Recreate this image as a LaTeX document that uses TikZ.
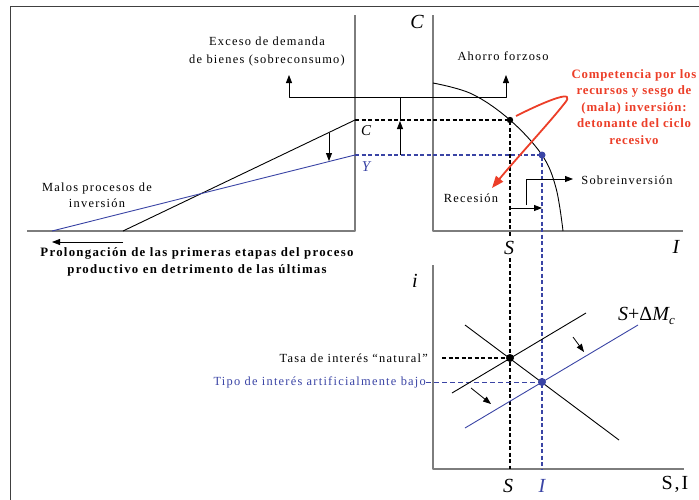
\documentclass[tikz,border=0pt]{standalone}
\usepackage{fontspec}
\setmainfont{Liberation Serif}[LetterSpace=10]
\usetikzlibrary{arrows.meta}
\definecolor{azul}{RGB}{58,68,165}
\definecolor{rojo}{RGB}{236,62,40}
\definecolor{ejes}{RGB}{125,125,125}

\begin{document}
\begin{tikzpicture}[x=1pt, y=-1pt, line join=round,
    eje/.style={ejes, line width=1.6pt},
    linea/.style={black, line width=0.9pt},
    lineaazul/.style={azul, line width=0.9pt},
    guia/.style={black, line width=1.4pt, dash pattern=on 4pt off 2.5pt},
    guiaazul/.style={azul, line width=1.4pt, dash pattern=on 4pt off 2.5pt},
    flecha/.style={black, line width=0.8pt, -{Triangle[length=8pt, width=6pt]}},
    texto/.style={font=\fontsize{12.4}{16}\selectfont, align=center, inner sep=0pt},
    negrita/.style={font=\fontsize{12.8}{16.5}\selectfont\bfseries},
    etiq/.style={font=\fontsize{20}{20}\selectfont\itshape, inner sep=0pt},
]
\useasboundingbox (0,0) rectangle (699,499);
\clip (0,0) rectangle (699,499);

    % Frame
    \draw[black!75, line width=1pt] (10,505) -- (10,6) -- (705,6);

    % Axes
    \draw[eje] (355,15) -- (355,231) -- (27,231);
    \draw[eje] (433,15) -- (433,231) -- (683,231);
    \draw[eje] (433,265) -- (433,469) -- (684,469);

    % Points
    \coordinate (C0) at (123,231);
    \coordinate (C1) at (355,120);
    \coordinate (Y0) at (52,231);
    \coordinate (Y1) at (355,155);
    \coordinate (PS) at (510,120);
    \coordinate (PI) at (542,155);
    \coordinate (Ei) at (510,358);
    \coordinate (Ea) at (542,382);

    % Stages of production
    \draw[linea] (C0) -- (C1);
    \draw[lineaazul] (Y0) -- (Y1);
    \draw[flecha] (329,133) -- (329,161);

    % Frontier
    \draw[linea] plot[smooth, tension=0.6] coordinates {(433,83) (472,94) (PS) (PI) (556,188) (563,231)};

    % Guide lines
    \draw[guia] (C1) -- (PS) -- (PS |- 0,469);
    \draw[guiaazul] (Y1) -- (PI) -- (PI |- 0,469);
    \draw[guia] (442,358) -- (Ei);
    \draw[azul, line width=0.8pt, dash pattern=on 5pt off 3pt] (426,382) -- (Ea);

    % Market for loanable funds
    \draw[linea] (452,393) -- (586,313);
    \draw[linea] (465,325) -- (619,440);
    \draw[lineaazul] (465,428) -- (638,325);
    \draw[flecha] (573,337) -- (584,352);
    \draw[flecha] (471,388) -- (491,404);

    % Dots
    \fill[black] (PS) circle (3.2);
    \fill[azul] (PI) circle (3.5);
    \fill[black] (Ei) circle (4);
    \fill[azul] (Ea) circle (4);

    % Connectors
    \draw[black, line width=0.8pt, {Triangle[length=8pt, width=6pt]}-{Triangle[length=8pt, width=6pt]}] (289,75) -- (289,97) -- (506,97) -- (506,75);
    \draw[flecha] (400,155) -- (400,121);
    \draw[black, line width=0.8pt] (400,121) -- (400,97);
    \draw[flecha] (526,205) |- (573,179);
    \draw[flecha] (PS |- 0,208) -- (PI |- 0,208);
    \draw[flecha] (123,242) -- (52,242);

    % Red loop
    \draw[rojo, line width=1.8pt, -{Triangle[length=12pt, width=9pt]}] (516,116) .. controls (548,100) and (578,88) .. (564,104) .. controls (550,122) and (515,160) .. (492,188);

    % Texts
    \node[texto] (exceso) at (267,52) {Exceso de demanda\\[2pt] de bienes (sobreconsumo)};
    \node[texto] (ahorro) at (503,56) {Ahorro forzoso};
    \node[texto, negrita, rojo] (compet) at (634,107) {\addfontfeature{LetterSpace=6}Competencia por los\\\addfontfeature{LetterSpace=6}recursos y sesgo de\\\addfontfeature{LetterSpace=6}(mala) inversión:\\\addfontfeature{LetterSpace=6}detonante del ciclo\\\addfontfeature{LetterSpace=6}recesivo};
    \node[texto] (sobre) at (627,180) {Sobreinversión};
    \node[texto] (recesion) at (471,198) {Recesión};
    \node[texto] (malos) at (97,195) {Malos procesos de\\inversión};
    \node[texto, negrita] (prolong) at (197,262) {Prolongación de las primeras etapas del proceso\\productivo en detrimento de las últimas};
    \node[texto, anchor=east] (tasa) at (428,358) {Tasa de interés “natural”};
    \node[texto, azul, anchor=east] (tipo) at (426,382) {Tipo de interés artificialmente bajo};

    % Axis labels
    \node[etiq] (labC) at (417,22) {C};
    \node[etiq] (labI) at (676,247) {I};
    \node[etiq, fill=white, inner sep=3pt] (labS) at (509,248) {S};
    \node[etiq, font=\fontsize{15}{15}\selectfont\itshape] (labc) at (366,131) {C};
    \node[etiq, azul, font=\fontsize{15}{15}\selectfont\itshape] (labY) at (366,167) {Y};
    \node[etiq] (labi) at (415,281) {i};
    \node[etiq, fill=white, inner sep=2pt] (labS2) at (508,486) {S};
    \node[etiq, azul, fill=white, inner sep=2pt] (labI2) at (542,486) {I};
    \node[etiq, font=\fontsize{20}{20}\selectfont] (labSI) at (675,484) {S,I};
    \node[etiq, anchor=west] (labM) at (618,316) {\addfontfeature{LetterSpace=0}S\upshape +Δ\itshape M\raisebox{-4pt}{\fontsize{13}{13}\selectfont c}};
\end{tikzpicture}
\end{document}
